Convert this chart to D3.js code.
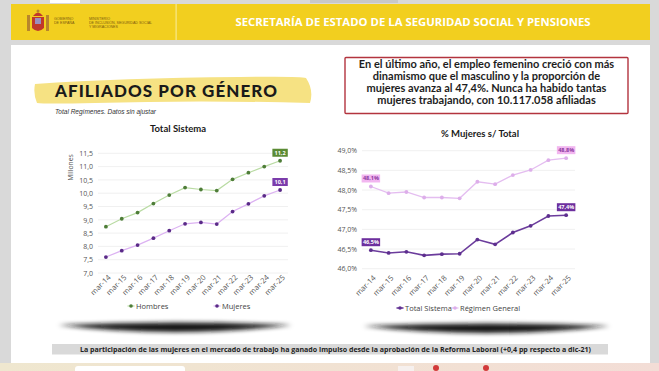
<!DOCTYPE html>
<html>
<head>
<meta charset="utf-8">
<script src="https://cdn.jsdelivr.net/npm/d3@7"></script>
<style>
  html, body { margin: 0; padding: 0; background: #d9d9d9; }
  svg { display: block; }
</style>
</head>
<body>
<script>
// datos
const periods = ["mar-14", "mar-15", "mar-16", "mar-17", "mar-18", "mar-19",
                 "mar-20", "mar-21", "mar-22", "mar-23", "mar-24", "mar-25"];
const hombres = [8.74, 9.04, 9.27, 9.61, 9.93, 10.21, 10.14, 10.10, 10.52, 10.77, 11.00, 11.22];
const mujeres = [7.60, 7.84, 8.05, 8.31, 8.59, 8.85, 8.90, 8.84, 9.31, 9.60, 9.90, 10.12];
const pctTotalSistema = [46.47, 46.40, 46.43, 46.34, 46.37, 46.38, 46.74, 46.62, 46.92, 47.09, 47.34, 47.36];
const pctRegimenGeneral = [48.09, 47.92, 47.95, 47.81, 47.81, 47.79, 48.21, 48.15, 48.38, 48.51, 48.76, 48.81];
const leftTicks = [7.0, 7.5, 8.0, 8.5, 9.0, 9.5, 10.0, 10.5, 11.0, 11.5];
const rightTicks = [46.0, 46.5, 47.0, 47.5, 48.0, 48.5, 49.0];
const boxLines = [
  "En el último año, el empleo femenino creció con más",
  "dinamismo que el masculino y la proporción de",
  "mujeres avanza al 47,4%. Nunca ha habido tantas",
  "mujeres trabajando, con 10.117.058 afiliadas"
];

const width = 659;
const height = 371;
const locale = d3.formatLocale({ decimal: ",", thousands: ".", grouping: [3], currency: ["", "€"] });
const f1 = locale.format(".1f");
const fPct = d => f1(d) + "%";

const svg = d3.select("body").append("svg")
  .attr("width", width)
  .attr("height", height);

const defs = svg.append("defs");
defs.append("filter").attr("id", "blur").attr("x", "-20%").attr("y", "-200%").attr("width", "140%").attr("height", "500%")
  .append("feGaussianBlur").attr("stdDeviation", 2.2);
const bg = defs.append("linearGradient").attr("id", "strip");
bg.append("stop").attr("offset", "0%").attr("stop-color", "#efe7cf");
bg.append("stop").attr("offset", "100%").attr("stop-color", "#f3ddd6");

// fondo y marco
svg.append("rect").attr("width", width).attr("height", height).attr("fill", "#d9d9d9");
svg.append("rect").attr("x", 50).attr("y", 0).attr("width", 30).attr("height", 3).attr("fill", "#fff");
svg.append("rect").attr("x", 310).attr("y", 0).attr("width", 88).attr("height", 3).attr("fill", "#c8c8c8");
svg.append("rect").attr("x", 11).attr("y", 45).attr("width", 639).attr("height", 318).attr("fill", "#fff");
svg.append("rect").attr("x", 0).attr("y", 363).attr("width", width).attr("height", 8).attr("fill", "url(#strip)");
svg.append("rect").attr("x", 75).attr("y", 366).attr("width", 110).attr("height", 8).attr("rx", 3).attr("fill", "#fff");
svg.append("rect").attr("x", 398).attr("y", 366).attr("width", 16).attr("height", 8).attr("fill", "#f6f0ee");
svg.append("circle").attr("cx", 436).attr("cy", 368).attr("r", 3).attr("fill", "#d23a3a");
svg.append("circle").attr("cx", 486).attr("cy", 368).attr("r", 3).attr("fill", "#d23a3a");

// cabecera
const header = svg.append("g");
header.append("rect").attr("x", 11).attr("y", 4).attr("width", 639).attr("height", 36).attr("fill", "#f2cf1f");
header.append("rect").attr("x", 175.5).attr("y", 4).attr("width", 1.2).attr("height", 36).attr("fill", "#f8e88a");
// escudo
header.append("rect").attr("x", 27).attr("y", 15).attr("width", 3).attr("height", 16).attr("fill", "#b8862c");
header.append("rect").attr("x", 46).attr("y", 15).attr("width", 3).attr("height", 16).attr("fill", "#b8862c");
header.append("path").attr("d", "M32,17 L44,17 L44,28 Q38,34 32,28 Z").attr("fill", "#c0392b");
header.append("rect").attr("x", 35).attr("y", 18).attr("width", 6).attr("height", 6).attr("fill", "#9a8fbf");
header.append("path").attr("d", "M33,16 Q38,9 43,16 Z").attr("fill", "#c0392b");
header.append("circle").attr("cx", 38).attr("cy", 11).attr("r", 1.5).attr("fill", "#b8862c");
const small = (x, y, t) => header.append("text").attr("x", x).attr("y", y)
  .attr("font-family", "Liberation Sans Narrow, Liberation Sans, sans-serif").attr("font-size", 3.6)
  .attr("fill", "#7a5a10").text(t);
small(54, 19.5, "GOBIERNO");
small(54, 23.5, "DE ESPAÑA");
small(89, 19.5, "MINISTERIO");
small(89, 23.5, "DE INCLUSIÓN, SEGURIDAD SOCIAL");
small(89, 27.5, "Y MIGRACIONES");
header.append("text")
  .attr("x", 413).attr("y", 26)
  .attr("text-anchor", "middle")
  .attr("font-family", "Open Sans, sans-serif").attr("font-weight", 700).attr("font-size", 11)
  .attr("textLength", 355).attr("lengthAdjust", "spacingAndGlyphs")
  .attr("fill", "#fff")
  .text("SECRETARÍA DE ESTADO DE LA SEGURIDAD SOCIAL Y PENSIONES");

// título con trazo
svg.append("path")
  .attr("d", "M35,84 Q120,78 240,77 Q300,76 306,78 Q314,90 310,103 Q200,100 95,103 Q45,104 37,103 Q33,94 35,84 Z")
  .attr("fill", "#f6e283");
svg.append("text")
  .attr("x", 55).attr("y", 97)
  .attr("font-family", "Lato, sans-serif").attr("font-weight", 900).attr("font-size", 16)
  .attr("letter-spacing", 1)
  .attr("textLength", 223).attr("lengthAdjust", "spacingAndGlyphs")
  .attr("fill", "#1a1a1a")
  .text("AFILIADOS POR GÉNERO");
svg.append("text")
  .attr("x", 55).attr("y", 113.5)
  .attr("font-family", "Liberation Sans, sans-serif").attr("font-style", "italic").attr("font-size", 6.5)
  .attr("fill", "#333")
  .text("Total Regímenes. Datos sin ajustar");

// cuadro de texto
svg.append("rect").attr("x", 345).attr("y", 57.5).attr("width", 283).attr("height", 56)
  .attr("fill", "#fff").attr("stroke", "#b3343f").attr("stroke-width", 1.4).attr("rx", 1);
svg.append("g").selectAll("text")
  .data(boxLines)
  .enter().append("text")
  .attr("x", 486.5)
  .attr("y", (d, i) => 68 + i * 12)
  .attr("text-anchor", "middle")
  .attr("font-family", "Lato, sans-serif").attr("font-weight", 700).attr("font-size", 11)
  .attr("fill", "#1e1e1e")
  .text(d => d);

// sombras
const shadow = (x0, x1, y) => svg.append("path")
  .attr("d", `M${x0},${y} Q${(x0 + x1) / 2},${y - 5} ${x1},${y} Q${(x0 + x1) / 2},${y + 14} ${x0},${y} Z`)
  .attr("fill", "#151515").attr("filter", "url(#blur)");
shadow(58, 292, 325);
shadow(363, 610, 326);

// nota inferior
svg.append("rect").attr("x", 52).attr("y", 344).attr("width", 556).attr("height", 10.5).attr("fill", "#d9d9d9");
svg.append("text")
  .attr("x", 80).attr("y", 352)
  .attr("font-family", "Open Sans, sans-serif").attr("font-weight", 700).attr("font-size", 7.5)
  .attr("textLength", 511).attr("lengthAdjust", "spacingAndGlyphs")
  .attr("fill", "#222")
  .text("La participación de las mujeres en el mercado de trabajo ha ganado impulso desde la aprobación de la Reforma Laboral (+0,4 pp respecto a dic-21)");

// ---------- función de gráfico de líneas ----------
function lineChart(cfg) {
  const g = svg.append("g");
  const x = d3.scalePoint().domain(periods).range([cfg.x0, cfg.x1]).padding(0.5);
  const y = d3.scaleLinear().domain(cfg.domain).range([cfg.yBottom, cfg.yTop]);

  g.append("text")
    .attr("x", cfg.titleX).attr("y", cfg.titleY)
    .attr("text-anchor", "middle")
    .attr("font-family", "Lato, sans-serif").attr("font-weight", 700).attr("font-size", 9.5)
    .attr("fill", "#1a1a1a")
    .text(cfg.title);

  // rejilla
  g.append("g").selectAll("line")
    .data(cfg.ticks)
    .enter().append("line")
    .attr("x1", cfg.x0).attr("x2", cfg.x1)
    .attr("y1", d => y(d)).attr("y2", d => y(d))
    .attr("stroke", "#ececec").attr("stroke-width", 0.8);

  // eje y
  const yAxis = g.append("g")
    .attr("transform", `translate(${cfg.x0 - 5},0)`)
    .call(d3.axisLeft(y).tickValues(cfg.ticks).tickFormat(cfg.fmt).tickSize(0).tickPadding(0));
  yAxis.select(".domain").remove();
  yAxis.selectAll("text")
    .attr("font-family", "Open Sans, sans-serif").attr("font-size", 7).attr("fill", "#555");

  // eje x
  const xAxis = g.append("g")
    .attr("transform", `translate(0,${cfg.yBottom})`)
    .call(d3.axisBottom(x).tickSize(0));
  xAxis.select(".domain").remove();
  xAxis.selectAll("text")
    .attr("font-family", "Open Sans, sans-serif").attr("font-size", 7.5).attr("fill", "#555")
    .attr("text-anchor", "end")
    .attr("x", 0).attr("y", 0).attr("dy", "0.35em")
    .attr("transform", `translate(3,${cfg.xLabelOff}) rotate(-45)`);

  // series
  cfg.series.forEach(s => {
    const line = d3.line().x((d, i) => x(periods[i])).y(d => y(d));
    g.append("path")
      .datum(s.values)
      .attr("d", line)
      .attr("fill", "none")
      .attr("stroke", s.line).attr("stroke-width", s.width);
    g.append("g").selectAll("circle")
      .data(s.values)
      .enter().append("circle")
      .attr("cx", (d, i) => x(periods[i]))
      .attr("cy", d => y(d))
      .attr("r", 1.9)
      .attr("fill", s.dot);

    // etiquetas de datos
    s.labels.forEach(i => {
      const v = s.values[i];
      const cx = x(periods[i]);
      const cy = y(v) - 8;
      const t = cfg.fmt(v);
      const w = t.length * 3.1 + 3;
      g.append("rect")
        .attr("x", cx - w / 2).attr("y", cy - 4)
        .attr("width", w).attr("height", 8)
        .attr("fill", s.labelBg);
      g.append("text")
        .attr("x", cx).attr("y", cy + 2)
        .attr("text-anchor", "middle")
        .attr("font-family", "Open Sans, sans-serif").attr("font-weight", 700).attr("font-size", 5.5)
        .attr("fill", s.labelFg)
        .text(t);
    });
  });

  // leyenda
  cfg.series.forEach(s => {
    const lg = g.append("g").attr("transform", `translate(${s.legX},${cfg.legY})`);
    lg.append("line").attr("x1", -3.5).attr("x2", 3.5).attr("y1", 0).attr("y2", 0)
      .attr("stroke", s.line).attr("stroke-width", s.width);
    lg.append("circle").attr("r", 1.8).attr("fill", s.dot);
    lg.append("text")
      .attr("x", 5).attr("y", 0).attr("dy", "0.35em")
      .attr("font-family", "Open Sans, sans-serif").attr("font-size", 7.5).attr("fill", "#444")
      .text(s.name);
  });

  if (cfg.yTitle) {
    g.append("text")
      .attr("transform", `translate(${cfg.yTitle.x},${cfg.yTitle.y}) rotate(-90)`)
      .attr("text-anchor", "middle").attr("dy", "0.35em")
      .attr("font-family", "Open Sans, sans-serif").attr("font-size", 6.8).attr("fill", "#555")
      .text(cfg.yTitle.text);
  }
}

lineChart({
  title: "Total Sistema", titleX: 178, titleY: 132,
  x0: 98, x1: 288, yTop: 153.3, yBottom: 273,
  domain: [7, 11.5], ticks: leftTicks, fmt: f1,
  xLabelOff: 3, legY: 306,
  yTitle: { x: 71, y: 167.5, text: "Millones" },
  series: [
    { name: "Hombres", values: hombres, line: "#b9dba3", dot: "#4e7d38", width: 1.2,
      labels: [11], labelBg: "#5b8b34", labelFg: "#fff", legX: 131 },
    { name: "Mujeres", values: mujeres, line: "#dcb2f2", dot: "#5a2a88", width: 1.2,
      labels: [11], labelBg: "#7b3cab", labelFg: "#fff", legX: 217 }
  ]
});

lineChart({
  title: "% Mujeres s/ Total", titleX: 480, titleY: 136.5,
  x0: 362, x1: 575, yTop: 150.7, yBottom: 268.7,
  domain: [46, 49], ticks: rightTicks, fmt: fPct,
  xLabelOff: 8, legY: 308,
  series: [
    { name: "Total Sistema", values: pctTotalSistema, line: "#6b3c9c", dot: "#5e2f8f", width: 1.6,
      labels: [0, 11], labelBg: "#6d2f9e", labelFg: "#fff", legX: 400 },
    { name: "Régimen General", values: pctRegimenGeneral, line: "#e4bdf0", dot: "#ddaeea", width: 1.3,
      labels: [0, 11], labelBg: "#f2b6f0", labelFg: "#8b3aa0", legX: 455 }
  ]
});
</script>
</body>
</html>
